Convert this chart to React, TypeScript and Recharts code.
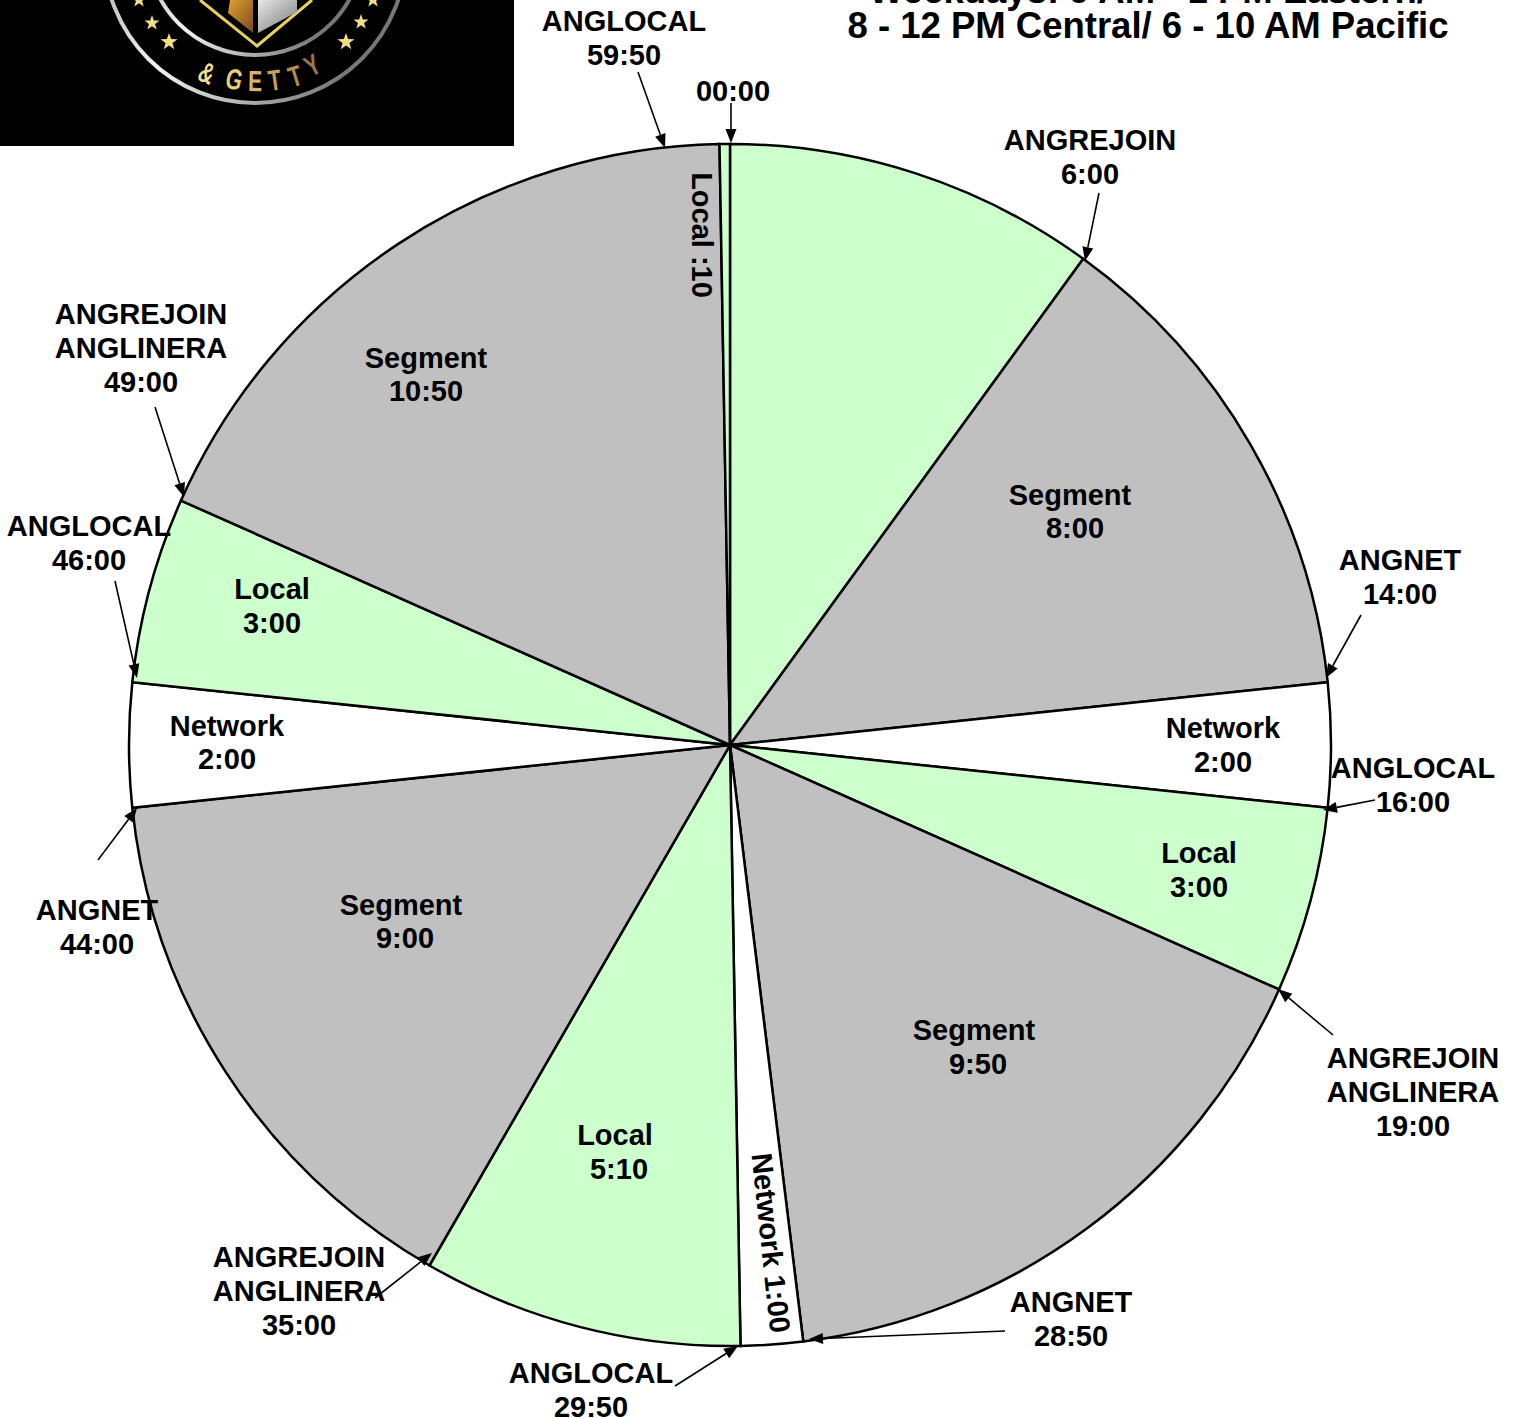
import React from "react";
import { PieChart, Pie, Cell } from "recharts";

// ---- data ----
const sliceNames = ["Local", "Segment", "Network", "Local", "Segment", "Network", "Local", "Segment", "Network", "Local", "Segment", "Local"];
const sliceLengths = ["6:00", "8:00", "2:00", "3:00", "9:50", "1:00", "5:10", "9:00", "2:00", "3:00", "10:50", ":10"];
const sliceMinutes = [6, 8, 2, 3, 9.833, 1, 5.167, 9, 2, 3, 10.833, 0.167];
const titleLines = ["Weekdays: 9 AM - 1 PM Eastern/", "8 - 12 PM Central/ 6 - 10 AM Pacific"];
const calloutTexts = [
  ["ANGLOCAL", "59:50"],
  ["00:00"],
  ["ANGREJOIN", "6:00"],
  ["ANGNET", "14:00"],
  ["ANGLOCAL", "16:00"],
  ["ANGREJOIN", "ANGLINERA", "19:00"],
  ["ANGNET", "28:50"],
  ["ANGLOCAL", "29:50"],
  ["ANGREJOIN", "ANGLINERA", "35:00"],
  ["ANGNET", "44:00"],
  ["ANGLOCAL", "46:00"],
  ["ANGREJOIN", "ANGLINERA", "49:00"],
];

// ---- layout & style ----
const FONT = "'Liberation Sans', Arial, sans-serif";
const fillByName: Record<string, string> = { Local: "#CCFFCC", Segment: "#C0C0C0", Network: "#FFFFFF" };
const calloutAt = [
  [624, 31], [733, 101], [1090, 150], [1400, 570], [1413, 778], [1413, 1068],
  [1071, 1312], [591, 1383], [299, 1267], [97, 920], [89, 536], [141, 324],
];
const arrowAt = [
  [638, 72, 665, 148], [731, 103, 731, 143], [1099, 193, 1085, 261], [1361, 615, 1326, 678],
  [1375, 800, 1323, 810], [1333, 1035, 1278, 989], [1005, 1331, 809, 1339], [675, 1386, 738, 1346],
  [375, 1298, 432, 1253], [98, 860, 137, 808], [115, 581, 137, 678], [155, 407, 184, 497],
];
// x1, y1, x2, y2 for each slice's two text lines; null = no label / rotated
const sliceLabelAt: (number[] | null)[] = [
  null, [1070, 505, 1075, 538], [1223, 738, 1223, 772], [1199, 863, 1199, 897], [974, 1040, 978, 1074],
  null, [615, 1145, 619, 1179], [401, 915, 405, 948], [227, 736, 227, 769], [272, 599, 272, 633],
  [426, 368, 426, 401], null,
];
const starAt = [[139, 0], [152, 23], [169, 42], [373, 0], [361, 22], [346, 42]];
const gettyLetters: [string, number, number, number, string][] = [
  ["&", 203, 82, 24, "#F3DE8A"],
  ["G", 232, 89, 13, "#E8CF78"],
  ["E", 255, 91, 1, "#D9B665"],
  ["T", 276, 90, -8, "#C9A05A"],
  ["T", 298, 86, -17, "#B58B50"],
  ["Y", 317, 74, -27, "#9E7648"],
];

const data = sliceNames.map((name, i) => ({ name, minutes: sliceMinutes[i], length: sliceLengths[i] }));

function starPath(cx: number, cy: number, r: number) {
  const pts: string[] = [];
  for (let i = 0; i < 10; i++) {
    const rad = i % 2 === 0 ? r : r * 0.4;
    const a = (-90 + i * 36) * (Math.PI / 180);
    pts.push(`${cx + rad * Math.cos(a)},${cy + rad * Math.sin(a)}`);
  }
  return pts.join(" ");
}

function Arrow({ c }: { c: number[] }) {
  const [x1, y1, x2, y2] = c;
  const a = Math.atan2(y2 - y1, x2 - x1);
  const len = 14, half = 5.5;
  const bx = x2 - len * Math.cos(a), by = y2 - len * Math.sin(a);
  const nx = -Math.sin(a) * half, ny = Math.cos(a) * half;
  return (
    <g>
      <line x1={x1} y1={y1} x2={bx} y2={by} stroke="#000" strokeWidth={1.6} />
      <polygon points={`${x2},${y2} ${bx + nx},${by + ny} ${bx - nx},${by - ny}`} fill="#000" />
    </g>
  );
}

function Logo() {
  return (
    <g>
      <defs>
        <linearGradient id="ring" x1="0" y1="0" x2="1" y2="0.4">
          <stop offset="0" stopColor="#8a8a8a" />
          <stop offset="0.45" stopColor="#f4f4f4" />
          <stop offset="1" stopColor="#777" />
        </linearGradient>
        <linearGradient id="gold" x1="0" y1="0" x2="1" y2="1">
          <stop offset="0" stopColor="#E0A030" />
          <stop offset="1" stopColor="#7A4A20" />
        </linearGradient>
        <linearGradient id="silver" x1="0" y1="0" x2="1" y2="1">
          <stop offset="0" stopColor="#E8E8E8" />
          <stop offset="1" stopColor="#777" />
        </linearGradient>
      </defs>
      <rect x={0} y={0} width={514} height={146} fill="#000" />
      <circle cx={255} cy={-48} r={151} fill="none" stroke="url(#ring)" strokeWidth={4} />
      <circle cx={255} cy={-53} r={108} fill="none" stroke="url(#ring)" strokeWidth={4} />
      <polyline points="200,0 257,46 312,0" fill="none" stroke="#E8D060" strokeWidth={3} />
      <polygon points="230,0 228,13 253,33 253,0" fill="url(#gold)" />
      <polygon points="258,0 258,33 297,12 297,0" fill="url(#silver)" />
      {starAt.map((s, i) => (
        <polygon key={i} points={starPath(s[0], s[1], i % 3 === 2 ? 9 : 8)} fill="#F2DF85" />
      ))}
      {gettyLetters.map(([ch, x, y, rot, col], i) => (
        <text
          key={i}
          transform={`translate(${x},${y}) rotate(${rot}) scale(0.72,1)`}
          textAnchor="middle"
          fontFamily={FONT}
          fontWeight="bold"
          fontSize={29}
          fill={col}
        >
          {ch}
        </text>
      ))}
    </g>
  );
}

export default function App() {
  return (
    <div style={{ position: "absolute", left: 0, top: 0, width: 1515, height: 1418, background: "#fff", overflow: "hidden" }}>
      <div style={{ position: "absolute", left: 0, top: 0 }}>
        <PieChart width={1515} height={1418} margin={{ top: 0, right: 0, bottom: 0, left: 0 }}>
          <Pie
            data={data}
            dataKey="minutes"
            nameKey="name"
            cx={730}
            cy={745}
            innerRadius={0}
            outerRadius={601}
            startAngle={90}
            endAngle={-270}
            stroke="#000"
            strokeWidth={2.5}
            isAnimationActive={false}
            labelLine={false}
            label={false}
          >
            {data.map((d, i) => (
              <Cell key={i} fill={fillByName[d.name]} />
            ))}
          </Pie>
        </PieChart>
      </div>
      <svg width={1515} height={1418} style={{ position: "absolute", left: 0, top: 0, pointerEvents: "none" }}>
        <Logo />
        <g fontFamily={FONT} fontWeight="bold" fill="#000" textAnchor="middle">
          <text x={1148} y={3} fontSize={36.5}>{titleLines[0]}</text>
          <text x={1148} y={38} fontSize={36.5}>{titleLines[1]}</text>
          {arrowAt.map((c, i) => <Arrow key={i} c={c} />)}
          {calloutTexts.map((lines, i) =>
            lines.map((t, j) => (
              <text key={`${i}-${j}`} x={calloutAt[i][0]} y={calloutAt[i][1] + j * 34} fontSize={29}>{t}</text>
            ))
          )}
          {data.map((d, i) => {
            const p = sliceLabelAt[i];
            if (!p) return null;
            return (
              <g key={i} fontSize={29}>
                <text x={p[0]} y={p[1]}>{d.name}</text>
                <text x={p[2]} y={p[3]}>{d.length}</text>
              </g>
            );
          })}
          <text transform="translate(692,235) rotate(90)" fontSize={29}>{`${data[11].name} ${data[11].length}`}</text>
          <text transform="translate(761,1244) rotate(84)" fontSize={29}>{`${data[5].name} ${data[5].length}`}</text>
        </g>
      </svg>
    </div>
  );
}
